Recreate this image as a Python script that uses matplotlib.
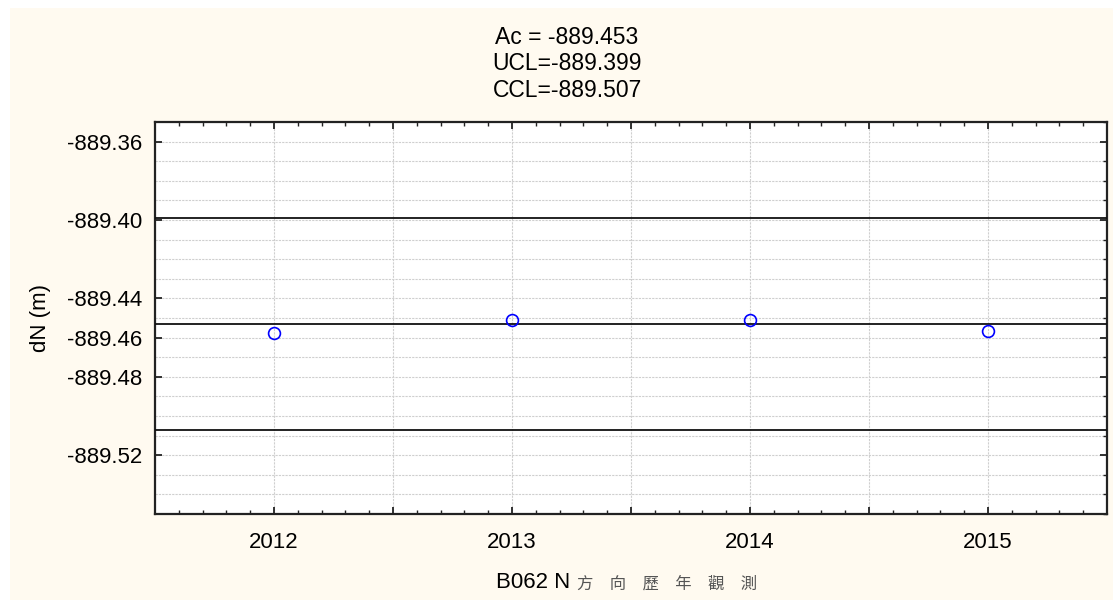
import numpy as np
import matplotlib
matplotlib.use("Agg")
import matplotlib.pyplot as plt
from matplotlib.ticker import MultipleLocator, FixedLocator

plt.rcParams['font.family'] = ['Liberation Sans', 'Noto Sans CJK TC', 'DejaVu Sans']

# data
years = [2012, 2013, 2014, 2015]
dN = [-889.4578, -889.4509, -889.4509, -889.4564]
Ac = -889.453
UCL = -889.399
CCL = -889.507
yticks = [-889.52, -889.48, -889.46, -889.44, -889.40, -889.36]
ytick_labels = ['-889.52', '-889.48', '-889.46', '-889.44', '-889.40', '-889.36']

cream = '#fffaf0'
fig = plt.figure(figsize=(11.13, 6.0), dpi=100, facecolor='white')
# cream panel, white strip at left and top like the original
fig.patches.append(plt.Rectangle((10 / 1113, 0), 1, 1 - 8 / 600,
                                 transform=fig.transFigure, facecolor=cream,
                                 edgecolor='none', zorder=-10))

ax = fig.add_axes([155 / 1113, 1 - 514 / 600, (1107 - 155) / 1113, (514 - 122) / 600])
ax.set_facecolor('white')

ax.axhline(UCL, color='#111111', lw=1.3, zorder=3)
ax.axhline(Ac, color='#111111', lw=1.3, zorder=3)
ax.axhline(CCL, color='#111111', lw=1.3, zorder=3)

ax.plot(years, dN, 'o', ms=8.5, mfc='none', mec='#0000ff', mew=1.2, zorder=4)

ax.set_xlim(2011.5, 2015.5)
ax.set_ylim(-889.55, -889.35)

xt = np.arange(2011.5, 2015.51, 0.5)
ax.set_xticks(xt)
ax.set_xticklabels(['' if v != int(v) else str(int(v)) for v in xt])
ax.xaxis.set_minor_locator(MultipleLocator(0.1))
ax.yaxis.set_major_locator(FixedLocator(yticks))
ax.set_yticklabels(ytick_labels)
ax.yaxis.set_minor_locator(MultipleLocator(0.01))

ax.tick_params(which='major', direction='in', length=5, width=1.3, color='#222222',
               labelsize=16, top=True, right=True)
ax.tick_params(axis='x', which='major', pad=13)
ax.tick_params(axis='y', which='major', pad=9)
ax.tick_params(which='minor', direction='in', length=3, width=1, color='#222222',
               top=True, right=True)
ax.tick_params(axis='y', which='minor', left=False)

ax.grid(True, axis='x', which='major', color='#cfcfcf', lw=0.8, ls=(0, (2, 1)))
ax.grid(True, axis='y', which='both', color='#cfcfcf', lw=0.8, ls=(0, (2, 1)))
ax.set_axisbelow(True)

for s in ax.spines.values():
    s.set_color('#222222')
    s.set_linewidth(1.6)

ax.set_ylabel('dN (m)', fontsize=16, labelpad=12)

fig.text(567 / 1113, 1 - 64 / 600, 'Ac = -889.453\nUCL=-889.399\nCCL=-889.507',
         ha='center', va='center', fontsize=16.5, linespacing=1.18)

fig.text(570 / 1113, 1 - 583 / 600, 'B062 N', ha='right', va='center', fontsize=16)
fig.text(577 / 1113, 1 - 584 / 600, '方\u3000向\u3000歷\u3000年\u3000觀\u3000測',
         ha='left', va='center', fontsize=11.8, color='#555555',
         family=['Noto Sans CJK TC'])

fig.savefig('out.png', dpi=100, facecolor=fig.get_facecolor())
